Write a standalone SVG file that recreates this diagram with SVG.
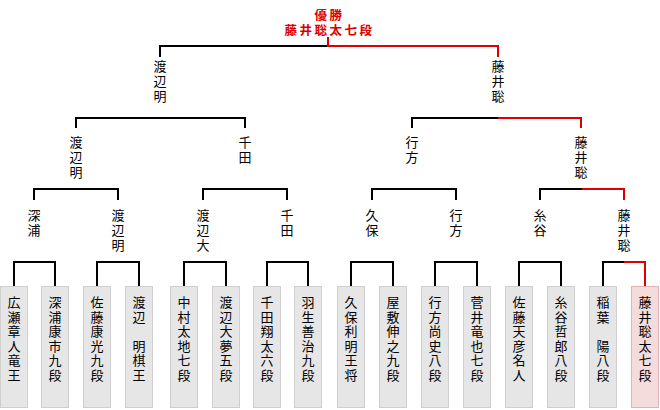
<svg xmlns="http://www.w3.org/2000/svg" width="660" height="410" viewBox="0 0 660 410">
<style>
text{font-family:"Noto Sans CJK JP","Noto Sans CJK SC",sans-serif;font-size:13px;fill:#000}
.t{font-weight:bold;font-size:12.5px;fill:#dd0000;text-anchor:middle;letter-spacing:2.5px}
.v{writing-mode:vertical-rl;text-orientation:upright;letter-spacing:2px}
.p{writing-mode:vertical-rl;text-orientation:upright;letter-spacing:1.5px}
.b{fill:#e6e6e6;stroke:#cfcfcf;stroke-width:1}
.w{fill:#f5dcdc;stroke:#e3b3b3;stroke-width:1}
.k{fill:none;stroke:#000;stroke-width:2}
.r{fill:none;stroke:#dd0000;stroke-width:2}
</style>
<rect width="660" height="410" fill="#fff"/>
<g id="connectors">
<path class="k" d="M14 287V262H55V287M97 287V262H139V287M184 287V262H226V287M267 287V262H308V287M351 287V262H393V287M435 287V262H477V287M519 287V262H561V287M603 287V262H624"/>
<path class="r" d="M624 262H645V287"/>
<path class="k" d="M34 200V189H118V200M203 200V189H287V200M372 200V189H456V200M540 200V189H582"/>
<path class="r" d="M582 189H624V200"/>
<path class="k" d="M76 128V118H245V128M412 128V118H498"/>
<path class="r" d="M498 118H581V128"/>
<path class="k" d="M160 57V46H328"/>
<path class="r" d="M328 37V46H498V57"/>
</g>
<g id="title"><text class="t" x="329.5" y="20">優勝</text><text class="t" x="329.5" y="34.5">藤井聡太七段</text></g>
<g id="sf1"><text class="v" x="160" y="60">渡辺明</text></g>
<g id="sf2"><text class="v" x="498" y="60">藤井聡</text></g>
<g id="qf1"><text class="v" x="76" y="136">渡辺明</text></g>
<g id="qf2"><text class="v" x="245" y="136">千田</text></g>
<g id="qf3"><text class="v" x="412" y="136">行方</text></g>
<g id="qf4"><text class="v" x="581" y="136">藤井聡</text></g>
<g id="r2a"><text class="v" x="34" y="208.5">深浦</text></g>
<g id="r2b"><text class="v" x="118" y="208.5">渡辺明</text></g>
<g id="r2c"><text class="v" x="203" y="208.5">渡辺大</text></g>
<g id="r2d"><text class="v" x="287" y="208.5">千田</text></g>
<g id="r2e"><text class="v" x="372" y="208.5">久保</text></g>
<g id="r2f"><text class="v" x="456" y="208.5">行方</text></g>
<g id="r2g"><text class="v" x="540" y="208.5">糸谷</text></g>
<g id="r2h"><text class="v" x="624" y="208.5">藤井聡</text></g>
<g id="p1"><rect class="b" x="0.5" y="286.5" width="27" height="121"/><text class="p" x="14" y="296">広瀬章人竜王</text></g>
<g id="p2"><rect class="b" x="41.5" y="286.5" width="27" height="121"/><text class="p" x="55" y="296">深浦康市九段</text></g>
<g id="p3"><rect class="b" x="83.5" y="286.5" width="27" height="121"/><text class="p" x="97" y="296">佐藤康光九段</text></g>
<g id="p4"><rect class="b" x="125.5" y="286.5" width="27" height="121"/><text class="p" x="139" y="296">渡辺　明棋王</text></g>
<g id="p5"><rect class="b" x="170.5" y="286.5" width="27" height="121"/><text class="p" x="184" y="296">中村太地七段</text></g>
<g id="p6"><rect class="b" x="212.5" y="286.5" width="27" height="121"/><text class="p" x="226" y="296">渡辺大夢五段</text></g>
<g id="p7"><rect class="b" x="253.5" y="286.5" width="27" height="121"/><text class="p" x="267" y="296">千田翔太六段</text></g>
<g id="p8"><rect class="b" x="294.5" y="286.5" width="27" height="121"/><text class="p" x="308" y="296">羽生善治九段</text></g>
<g id="p9"><rect class="b" x="337.5" y="286.5" width="27" height="121"/><text class="p" x="351" y="296">久保利明王将</text></g>
<g id="p10"><rect class="b" x="379.5" y="286.5" width="27" height="121"/><text class="p" x="393" y="296">屋敷伸之九段</text></g>
<g id="p11"><rect class="b" x="421.5" y="286.5" width="27" height="121"/><text class="p" x="435" y="296">行方尚史八段</text></g>
<g id="p12"><rect class="b" x="463.5" y="286.5" width="27" height="121"/><text class="p" x="477" y="296">菅井竜也七段</text></g>
<g id="p13"><rect class="b" x="505.5" y="286.5" width="27" height="121"/><text class="p" x="519" y="296">佐藤天彦名人</text></g>
<g id="p14"><rect class="b" x="547.5" y="286.5" width="27" height="121"/><text class="p" x="561" y="296">糸谷哲郎八段</text></g>
<g id="p15"><rect class="b" x="589.5" y="286.5" width="27" height="121"/><text class="p" x="603" y="296">稲葉　陽八段</text></g>
<g id="p16"><rect class="w" x="631.5" y="286.5" width="27" height="121"/><text class="p" x="645" y="296">藤井聡太七段</text></g>
</svg>
